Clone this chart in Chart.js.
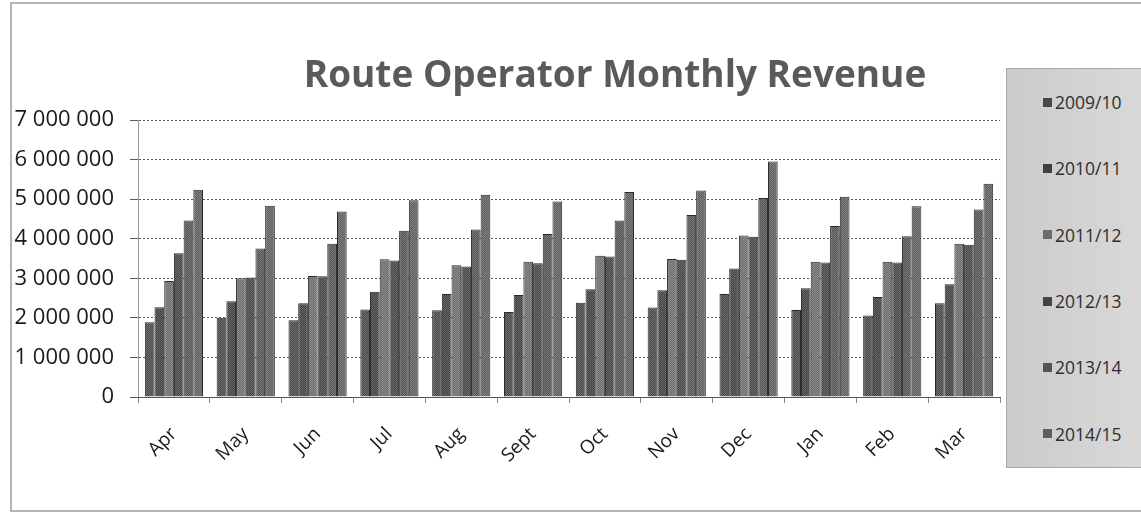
<!DOCTYPE html>
<html>
<head>
<meta charset="utf-8">
<title>Route Operator Monthly Revenue</title>
<script src="https://cdn.jsdelivr.net/npm/chart.js@4.4.1/dist/chart.umd.min.js"></script>
<style>
  html, body { margin: 0; padding: 0; background: #fff; }
  #wrap { position: relative; width: 1141px; height: 517px; overflow: hidden; font-family: 'Open Sans', sans-serif; }
  #frame { position: absolute; left: 10px; top: 2px; width: 1140px; height: 510px; border: 2px solid #b4b4b4; box-sizing: border-box; }
  #chart { position: absolute; left: 0; top: 0; }
  #title { position: absolute; left: 615px; top: 48px; transform: translateX(-50%); white-space: nowrap;
           font-size: 37px; line-height: 50px; font-weight: 700; color: #5a5a5a; }
  #legend { position: absolute; left: 1006px; top: 68px; width: 150px; height: 400px; box-sizing: border-box;
            border: 1px solid #a8a8a8; background: linear-gradient(to right, #cbcbcb, #dadada);
            display: flex; flex-direction: column; justify-content: space-around; padding-left: 36px; }
  .item { display: flex; align-items: center; font-size: 17.5px; color: #2e2e2e; height: 24px; }
  .box { width: 9px; height: 9px; margin-right: 3px; }
</style>
</head>
<body>
<div id="wrap">
  <div id="frame"></div>
  <canvas id="chart" width="1141" height="517"></canvas>
  <div id="title">Route Operator Monthly Revenue</div>
  <div id="legend"></div>
</div>
<script>
// Months and financial years
const months = ['Apr', 'May', 'Jun', 'Jul', 'Aug', 'Sept', 'Oct', 'Nov', 'Dec', 'Jan', 'Feb', 'Mar'];
const years = ['2009/10', '2010/11', '2011/12', '2012/13', '2013/14', '2014/15'];

// Revenue per month, one array per year
const rev0910 = [1890000, 2000000, 1940000, 2210000, 2190000, 2150000, 2380000, 2260000, 2600000, 2200000, 2060000, 2370000];
const rev1011 = [2270000, 2420000, 2370000, 2660000, 2600000, 2580000, 2720000, 2700000, 3250000, 2750000, 2530000, 2850000];
const rev1112 = [2930000, 3000000, 3060000, 3480000, 3330000, 3420000, 3570000, 3490000, 4080000, 3420000, 3420000, 3870000];
const rev1213 = [3630000, 3020000, 3050000, 3450000, 3300000, 3380000, 3550000, 3470000, 4050000, 3400000, 3400000, 3850000];
const rev1314 = [4460000, 3750000, 3870000, 4200000, 4230000, 4120000, 4460000, 4600000, 5030000, 4320000, 4060000, 4740000];
const rev1415 = [5240000, 4830000, 4690000, 4970000, 5110000, 4940000, 5180000, 5220000, 5950000, 5060000, 4820000, 5390000];

const yTicks = [0, 1000000, 2000000, 3000000, 4000000, 5000000, 6000000, 7000000];

const seriesData = [rev0910, rev1011, rev1112, rev1213, rev1314, rev1415];
const fills = ['#484848', '#404040', '#6c6c6c', '#454545', '#545454', '#5e5e5e'];

// small checker pattern so bars look like the scanned print
function dither(color) {
  const c = document.createElement('canvas');
  c.width = 2; c.height = 2;
  const g = c.getContext('2d');
  g.fillStyle = color;
  g.fillRect(0, 0, 2, 2);
  g.fillStyle = 'rgba(255,255,255,0.22)';
  g.fillRect(0, 0, 1, 1);
  g.fillRect(1, 1, 1, 1);
  return g.createPattern(c, 'repeat');
}

// Legend (html)
const legendEl = document.getElementById('legend');
years.forEach((y, i) => {
  const item = document.createElement('div');
  item.className = 'item';
  item.innerHTML = '<span class="box" style="background:' + fills[i] + '"></span>' + y;
  legendEl.appendChild(item);
});

function fmt(v) {
  return v.toLocaleString('en-US').replace(/,/g, ' ');
}

new Chart(document.getElementById('chart'), {
  type: 'bar',
  data: {
    labels: months,
    datasets: years.map((y, i) => ({
      label: y,
      data: seriesData[i],
      backgroundColor: dither(fills[i]),
      borderColor: '#2a2a2a',
      borderWidth: 1,
      categoryPercentage: 0.81,
      barPercentage: 1.0
    }))
  },
  options: {
    responsive: false,
    animation: false,
    layout: { padding: { top: 120, right: 141, left: 0, bottom: 0 } },
    plugins: {
      legend: { display: false },
      title: { display: false },
      tooltip: { enabled: false }
    },
    scales: {
      y: {
        min: 0,
        max: 7000000,
        afterFit: s => { s.width = 138; },
        afterBuildTicks: s => { s.ticks = yTicks.map(v => ({ value: v })); },
        ticks: {
          padding: 16,
          color: '#1a1a1a',
          font: { family: 'Open Sans', size: 22 },
          callback: v => fmt(v)
        },
        grid: { color: '#5a5a5a', tickLength: 8 },
        border: { display: true, color: '#9a9a9a', dash: [2, 2] }
      },
      x: {
        afterFit: s => { s.height = 120; },
        ticks: {
          minRotation: 45,
          maxRotation: 45,
          padding: 20,
          color: '#1a1a1a',
          font: { family: 'Open Sans', size: 19 }
        },
        grid: { display: true, drawOnChartArea: false, tickLength: 6, color: '#8a8a8a' },
        border: { display: true, color: '#555' }
      }
    }
  }
});
</script>
</body>
</html>
